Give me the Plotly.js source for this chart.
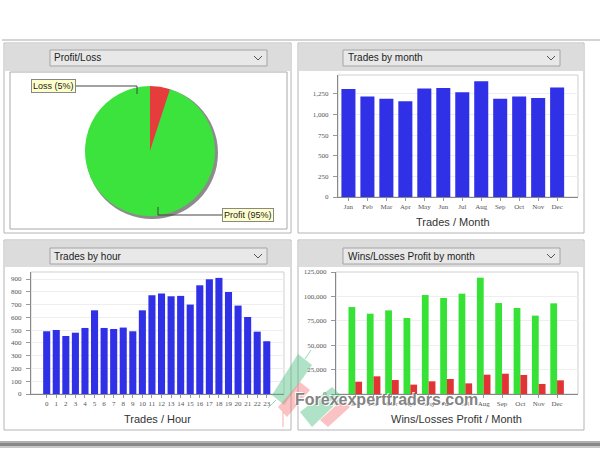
<!DOCTYPE html>
<html>
<head>
<meta charset="utf-8">
<script src="https://cdn.plot.ly/plotly-3.0.1.min.js"></script>
<style>
  html, body { margin: 0; padding: 0; background: #fff; }
  #chart { width: 600px; height: 450px; }
</style>
</head>
<body>
<div id="chart"></div>
<script>
// data
var pieLabels = ["Loss", "Profit"];
var pieValues = [5, 95];

var months = ["Jan","Feb","Mar","Apr","May","Jun","Jul","Aug","Sep","Oct","Nov","Dec"];
var tradesByMonth = [1311, 1218, 1193, 1161, 1315, 1323, 1270, 1404, 1193, 1218, 1201, 1327];

var hours = ["0","1","2","3","4","5","6","7","8","9","10","11","12","13","14","15","16","17","18","19","20","21","22","23"];
var tradesByHour = [491, 501, 454, 480, 517, 655, 517, 509, 520, 491, 655, 773, 786, 765, 768, 700, 851, 898, 909, 799, 692, 603, 488, 413];

var winsByMonth = [89100, 82300, 85700, 77900, 101400, 98400, 102800, 119200, 93200, 88100, 80300, 92900];
var lossesByMonth = [12600, 18100, 14300, 9600, 13000, 15400, 10900, 19800, 20800, 19500, 10300, 14000];

// pixel -> paper helpers
var W = 600, H = 450;
function X(p){ return p / W; }
function Y(p){ return 1 - p / H; }

function rect(x0, y0, x1, y1, fill, line, layer){
  return {type:"rect", xref:"paper", yref:"paper",
          x0:X(x0), x1:X(x1), y0:Y(y1), y1:Y(y0),
          fillcolor:fill, line:{color:line || "rgba(0,0,0,0)", width:line ? 1 : 0},
          layer:layer || "below"};
}
function path(pts, fill, line, layer, opacity){
  var d = pts.map(function(p, i){ return (i ? "L" : "M") + X(p[0]) + "," + Y(p[1]); }).join(" ");
  if (fill) d += " Z";
  return {type:"path", xref:"paper", yref:"paper", path:d,
          fillcolor:fill || "rgba(0,0,0,0)",
          line:{color:line || "rgba(0,0,0,0)", width:line ? 1 : 0},
          layer:layer || "below", opacity:opacity == null ? 1 : opacity};
}
function txt(x, y, s, size, color, anchor, extra){
  var a = {xref:"paper", yref:"paper", x:X(x), y:Y(y), text:s, showarrow:false,
           xanchor:anchor || "center", yanchor:"middle",
           font:{family:"Liberation Sans, Arial, sans-serif", size:size, color:color}};
  for (var k in extra) a[k] = extra[k];
  return a;
}

var shapes = [];
// container top rule and bottom shadow
shapes.push(rect(2, 39, 600, 41, "#d4d4d4"));
shapes.push(rect(0, 441, 600, 443, "#b0b0b0"));
shapes.push(rect(0, 443, 600, 446, "#888888"));
shapes.push(rect(0, 446, 600, 448, "#c8c8c8"));

// four panels
var panels = [
  {x0:4, x1:291, y0:43, y1:233, hb:71, dd:[50, 267, 50, 66]},
  {x0:298, x1:584, y0:43, y1:233, hb:71, dd:[343, 560, 50, 66]},
  {x0:4, x1:291, y0:240, y1:430, hb:267, dd:[50, 267, 248, 264]},
  {x0:298, x1:584, y0:240, y1:430, hb:267, dd:[343, 560, 248, 264]}
];
panels.forEach(function(p){
  shapes.push(rect(p.x0, p.y0, p.x1, p.y1, "#ffffff", "#b4b4b4"));
  shapes.push(rect(p.x0 + 1, p.y0 + 1, p.x1 - 1, p.hb, "#dcdcdc"));
  shapes.push(rect(p.dd[0], p.dd[2], p.dd[1], p.dd[3], "#e8e8e8", "#a4a4a4"));
  var cx = p.dd[1] - 9, cy = (p.dd[2] + p.dd[3]) / 2;
  shapes.push(path([[cx - 4, cy - 2], [cx, cy + 2], [cx + 4, cy - 2]], null, "#555555", "above"));
});
// inner box of pie panel
shapes.push(rect(10, 72, 287, 229, "#ffffff", "#a8a8a8"));
// plot frames
shapes.push(rect(338, 75, 578, 197, "#ffffff", "#cfcfcf"));
shapes.push(rect(31, 272, 284, 394, "#ffffff", "#cfcfcf"));
shapes.push(rect(336, 272, 578, 394, "#ffffff", "#cfcfcf"));
// pie shadow
shapes.push({type:"circle", xref:"paper", yref:"paper",
             x0:X(86), x1:X(218), y0:Y(219), y1:Y(87),
             fillcolor:"#8c8c8c", line:{width:0}, layer:"below"});
// pie leader lines
shapes.push(path([[74, 86], [137, 86], [137, 94]], null, "#444444", "above"));
shapes.push(path([[158, 207], [158, 215], [223, 215]], null, "#444444", "above"));

// watermark logo
var wm = [
  {pts:[[272,395],[298,354],[312,365],[284,405]], c:"rgba(80,190,130,0.45)"},
  {pts:[[300,412],[332,387],[343,397],[312,427]], c:"rgba(80,190,130,0.45)"},
  {pts:[[278,407],[300,382],[310,390],[287,417]], c:"rgba(245,120,120,0.45)"},
  {pts:[[320,420],[342,400],[350,407],[328,427]], c:"rgba(245,120,120,0.45)"}
];
wm.forEach(function(w){ shapes.push(path(w.pts, w.c, null, "above")); });
shapes.push(path([[305,359],[311,350]], null, "rgba(80,190,130,0.6)", "above"));
shapes.push(path([[276,400],[268,408]], null, "rgba(80,190,130,0.6)", "above"));
shapes.push(path([[283,412],[283,427]], null, "rgba(245,120,120,0.6)", "above"));

var annotations = [
  txt(52, 58, "Profit/Loss", 10, "#222", "left"),
  txt(346, 58, "Trades by month", 10, "#222", "left"),
  txt(52, 256, "Trades by hour", 10, "#222", "left"),
  txt(346, 256, "Wins/Losses Profit by month", 10, "#222", "left"),
  txt(453, 222, "Trades / Month", 11, "#333"),
  txt(157, 419, "Trades / Hour", 11, "#333"),
  txt(456, 419, "Wins/Losses Profit / Month", 11, "#333"),
  txt(53, 86, "Loss (5%)", 9, "#222", "center", {bgcolor:"#ffffcc", bordercolor:"#888", borderwidth:1, borderpad:1}),
  txt(248, 215, "Profit (95%)", 9, "#222", "center", {bgcolor:"#ffffcc", bordercolor:"#888", borderwidth:1, borderpad:1}),
  txt(386, 399, "<b>Forexexperttraders.com</b>", 16, "rgba(115,115,115,0.9)", "center",
      {font:{family:"Liberation Sans, Arial, sans-serif", size:16, color:"rgba(115,115,115,0.9)",
             shadow:"1px 1px 0 #fff, -1px -1px 0 #fff"}})
];

var tickFont = {family:"Liberation Serif, Times New Roman, serif", size:7, color:"#555"};
function xax(domain, range){
  return {domain:domain, range:range, type:"category", showgrid:false, zeroline:false,
          showline:true, linecolor:"#888", ticks:"outside", ticklen:3, tickcolor:"#999",
          tickfont:tickFont, fixedrange:true};
}
function yax(domain, range, dtick, anchor){
  return {domain:domain, range:range, dtick:dtick, tick0:0, tickformat:",d", anchor:anchor,
          showgrid:true, gridcolor:"#eeeeee", zeroline:false,
          showline:true, linecolor:"#888", ticks:"outside", ticklen:4, tickcolor:"#999",
          tickfont:tickFont, ticklabelstandoff:3, fixedrange:true};
}

var data = [
  {type:"pie", labels:pieLabels, values:pieValues, sort:false, direction:"counterclockwise",
   rotation:0, textinfo:"none", hoverinfo:"label+percent",
   marker:{colors:["#e63c3c", "#3de33d"], line:{width:0}},
   domain:{x:[X(85), X(215)], y:[Y(216), Y(86)]}, showlegend:false},
  {type:"bar", x:months, y:tradesByMonth, xaxis:"x", yaxis:"y",
   marker:{color:"#3030e6"}, showlegend:false},
  {type:"bar", x:hours, y:tradesByHour, xaxis:"x2", yaxis:"y2",
   marker:{color:"#3030e6"}, showlegend:false},
  {type:"bar", x:months, y:winsByMonth, xaxis:"x3", yaxis:"y3", name:"Wins",
   marker:{color:"#36e236"}, showlegend:false},
  {type:"bar", x:months, y:lossesByMonth, xaxis:"x3", yaxis:"y3", name:"Losses",
   marker:{color:"#e23434"}, showlegend:false}
];

var layout = {
  width:600, height:450,
  margin:{l:0, r:0, t:0, b:0},
  paper_bgcolor:"#ffffff", plot_bgcolor:"rgba(0,0,0,0)",
  barmode:"group", bargap:0.26, bargroupgap:0,
  showlegend:false,
  xaxis: xax([X(338), X(578)], [-0.55, 12.1]),
  yaxis: yax([Y(197), Y(75)], [0, 1480], 250, "x"),
  xaxis2: xax([X(31), X(284)], [-1.64, 24.8]),
  yaxis2: yax([Y(394), Y(272)], [0, 955], 100, "x2"),
  xaxis3: xax([X(336), X(578)], [-1.05, 12.14]),
  yaxis3: yax([Y(394), Y(272)], [0, 125000], 25000, "x3"),
  shapes:shapes,
  annotations:annotations
};
layout.xaxis.anchor = "y";
layout.xaxis2.anchor = "y2";
layout.xaxis3.anchor = "y3";

Plotly.newPlot("chart", data, layout, {displayModeBar:false, staticPlot:true});
</script>
</body>
</html>
